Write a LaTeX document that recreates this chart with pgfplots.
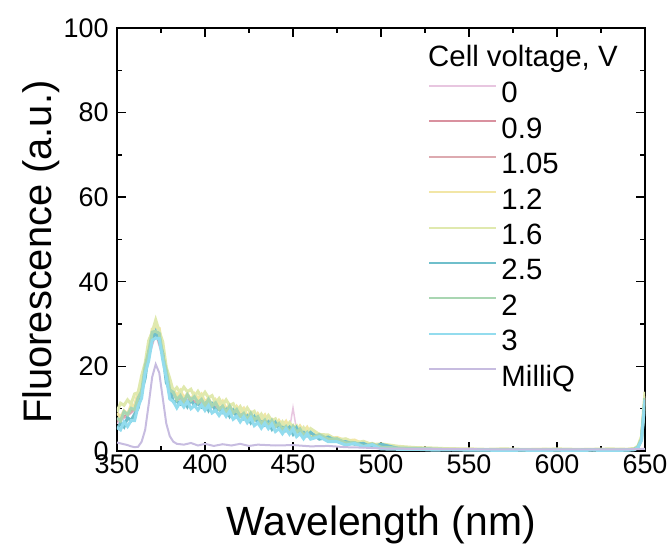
\documentclass[border=0pt]{standalone}
\usepackage{fontspec}
\setmainfont{Liberation Sans}
\usepackage{pgfplots}
\usepackage{pgfplotstable}
\pgfplotsset{compat=1.18}

\definecolor{cA}{HTML}{E8C6E0}
\definecolor{cB}{HTML}{D9919F}
\definecolor{cC}{HTML}{DDAAB0}
\definecolor{cD}{HTML}{F2E6A6}
\definecolor{cE}{HTML}{E0E9AE}
\definecolor{cF}{HTML}{6FBFCB}
\definecolor{cG}{HTML}{A9D6B2}
\definecolor{cH}{HTML}{93DCEE}
\definecolor{cM}{HTML}{C7BCE0}

% 0, 0.9 and 1.05 V
\pgfplotstableread{
wl a b c
350 6.5 7.0 7.5
355 8.0 8.5 8.0
360 9.5 10.0 9.8
364 14.0 14.5 14.2
368 22.0 23.0 22.5
372 27.5 28.5 28.0
376 22.0 23.0 22.5
380 13.5 14.5 14.0
385 12.0 12.5 12.2
390 11.8 12.2 12.0
400 10.8 11.2 11.0
410 9.6 10.0 9.8
420 8.4 8.8 8.6
430 7.1 7.5 7.3
440 5.9 6.3 6.1
446 5.3 5.7 5.5
448 5.1 5.5 5.3
450 10.2 5.4 5.2
452 5.0 5.2 5.0
460 3.8 4.1 4.0
470 2.9 3.1 3.0
480 2.1 2.3 2.2
490 1.4 1.6 1.5
500 1.0 1.1 1.0
520 0.6 0.7 0.6
560 0.3 0.4 0.3
600 0.3 0.3 0.3
640 0.3 0.3 0.3
646 0.9 1.0 0.9
648 2.8 3.0 2.9
650 12.5 13.0 12.8
}\lowtab

% 1.2, 1.6, 2.5, 2 and 3 V
\pgfplotstableread{
wl d e f g h
350 9.0 9.3 5.1 7.8 5.6
352 8.0 11.3 6.6 7.1 5.0
354 9.5 10.8 5.7 9.3 6.9
356 8.7 12.1 7.9 8.6 5.8
358 10.8 11.1 7.2 10.1 7.2
360 10.8 13.5 8.7 9.8 7.2
362 13.8 13.8 10.1 12.6 10.6
364 15.0 17.8 14.1 14.1 12.5
366 20.3 20.8 17.2 20.1 18.4
368 23.5 26.1 23.4 23.4 21.3
370 28.8 28.1 26.2 28.1 26.2
372 29.3 31.0 28.2 28.3 26.7
374 29.0 28.3 26.1 27.8 26.6
376 23.5 25.8 23.1 22.6 21.5
378 19.3 19.8 16.2 19.1 17.4
380 14.5 17.1 14.4 14.4 12.3
382 14.6 14.1 11.7 13.9 11.7
384 13.1 15.0 11.7 12.1 10.2
386 14.3 13.8 11.1 13.1 11.6
388 12.6 15.1 12.0 11.7 10.4
390 13.5 14.0 10.5 13.3 11.7
392 12.1 14.6 12.1 12.0 10.0
394 13.5 12.9 10.8 12.8 10.8
396 12.4 14.1 11.2 11.4 9.7
398 13.4 12.7 10.4 12.2 10.9
400 11.6 13.9 11.2 10.7 9.6
402 12.4 12.6 9.6 12.2 10.8
404 10.8 13.1 11.1 10.7 9.0
406 12.1 11.3 9.6 11.4 9.6
408 10.9 12.4 9.9 9.9 8.4
410 11.8 10.9 9.1 10.6 9.6
412 10.0 12.1 9.8 9.1 8.2
414 10.8 10.8 8.2 10.6 9.4
416 9.1 11.2 9.6 9.0 7.5
418 10.5 9.4 8.2 9.8 8.2
420 9.2 10.5 8.4 8.2 6.9
422 10.1 9.0 7.6 8.9 8.1
424 8.3 10.2 8.3 7.4 6.7
426 9.1 8.9 6.7 8.9 7.9
428 7.5 9.4 8.1 7.4 6.0
430 8.8 7.6 6.7 8.1 6.7
432 7.5 8.7 6.9 6.5 5.4
434 8.5 7.2 6.1 7.3 6.6
436 6.7 8.4 6.9 5.8 5.3
438 7.4 7.1 5.2 7.2 6.4
440 5.9 7.6 6.7 5.8 4.6
442 7.2 5.8 5.3 6.5 5.3
444 6.0 6.9 5.6 5.0 4.1
446 7.0 5.5 4.8 5.8 5.3
448 5.2 6.7 5.6 4.3 4.0
450 6.0 5.5 4.0 5.8 5.2
452 4.5 6.0 5.5 4.4 3.4
454 5.9 4.3 4.1 5.2 4.1
456 4.7 5.5 4.4 3.7 2.9
458 5.6 4.0 3.6 4.4 4.1
460 3.9 5.3 4.4 3.0 2.8
465 4.0 3.9 2.8 3.9 3.4
470 2.9 3.8 3.3 2.8 2.2
475 3.2 2.6 2.3 2.9 2.2
480 2.4 2.9 2.2 1.9 1.4
485 2.6 1.9 1.6 2.0 1.8
490 1.6 2.3 1.8 1.1 1.0
495 1.8 1.5 0.9 1.7 1.5
500 1.0 1.7 1.6 0.9 0.5
510 0.9 1.1 0.6 0.7 0.4
520 0.7 0.8 0.5 0.6 0.4
530 0.5 0.7 0.4 0.4 0.2
540 0.5 0.5 0.3 0.4 0.3
550 0.4 0.5 0.3 0.3 0.2
560 0.3 0.4 0.2 0.3 0.2
570 0.4 0.5 0.3 0.3 0.1
580 0.3 0.4 0.2 0.3 0.2
590 0.4 0.4 0.2 0.2 0.1
600 0.3 0.5 0.2 0.3 0.2
610 0.3 0.4 0.2 0.2 0.1
620 0.4 0.4 0.3 0.3 0.2
630 0.3 0.5 0.2 0.2 0.1
640 0.4 0.4 0.2 0.3 0.2
644 0.5 0.6 0.4 0.4 0.3
646 1.0 1.2 0.9 0.9 0.8
648 3.0 3.5 2.7 2.8 2.5
650 13.0 14.0 12.5 12.5 12.0
}\bandtab

% MilliQ
\pgfplotstableread{
wl m
350 2.0
352 1.8
354 1.6
356 1.4
358 1.1
360 0.9
362 1.0
364 2.2
366 5.0
368 11.0
370 17.5
372 20.5
374 18.5
376 12.5
378 6.5
380 3.5
382 2.2
384 1.7
388 1.5
392 1.9
396 1.3
400 1.7
405 1.2
410 1.6
415 1.3
420 1.7
425 1.2
430 1.5
440 1.3
450 1.4
460 1.1
470 1.2
480 0.9
490 0.8
500 0.6
520 0.5
560 0.4
600 0.4
640 0.4
650 0.5
}\mqtab

\begin{document}
\begin{tikzpicture}
\begin{axis}[
  scale only axis,
  width=528bp, height=423bp,
  xmin=350, xmax=650, ymin=0, ymax=100,
  xtick={350,400,...,650},
  ytick={0,20,...,100},
  minor tick num=1,
  tick align=inside,
  major tick length=9bp,
  minor tick length=5bp,
  every tick/.style={black, line width=1.4bp},
  axis line style={line width=1.6bp},
  /pgf/number format/assume math mode=true,
  tick label style={font=\fontsize{27}{32}\selectfont},
  yticklabel style={xshift=-5bp},
  xlabel={Wavelength (nm)},
  ylabel={Fluorescence (a.u.)},
  xlabel style={font=\fontsize{41}{48}\selectfont, at={(axis description cs:0.5,0)}, anchor=base, yshift=-84bp},
  ylabel style={font=\fontsize{40}{48}\selectfont, at={(axis description cs:0,0.47)}, anchor=base, yshift=65bp},
  legend style={at={(rel axis cs:0.589,0.870)}, anchor=north west, draw=none, fill=none,
    inner sep=0pt, outer sep=0pt, row sep=9.4bp, column sep=4bp,
    font=\fontsize{29.5}{34}\selectfont,
    nodes={inner sep=0pt, text height=20bp, text depth=6bp}},
  legend cell align=left,
  legend image code/.code={\path (0bp,0bp); \draw[line width=2bp] (0bp,10bp) -- (67bp,10bp);},
]
\addplot[cA, line width=1.5bp] table[x=wl, y=a] {\lowtab};
\addlegendentry{0}
\addplot[cB, line width=1.5bp] table[x=wl, y=b] {\lowtab};
\addlegendentry{0.9}
\addplot[cC, line width=1.5bp] table[x=wl, y=c] {\lowtab};
\addlegendentry{1.05}
\addplot[cD, line width=3bp] table[x=wl, y=d] {\bandtab};
\addlegendentry{1.2}
\addplot[cE, line width=3bp] table[x=wl, y=e] {\bandtab};
\addlegendentry{1.6}
\addplot[cF, line width=3bp] table[x=wl, y=f] {\bandtab};
\addlegendentry{2.5}
\addplot[cG, line width=3bp] table[x=wl, y=g] {\bandtab};
\addlegendentry{2}
\addplot[cH, line width=3bp] table[x=wl, y=h] {\bandtab};
\addlegendentry{3}
\addplot[cM, line width=2bp] table[x=wl, y=m] {\mqtab};
\addlegendentry{MilliQ}
\node[anchor=base west, inner sep=0pt, font=\fontsize{29.5}{34}\selectfont] at (rel axis cs:0.589,0.910) {Cell voltage, V};
\end{axis}
\path (current axis.south west) ++(-117bp,-97bp) coordinate (bl);
\path (current axis.north east) ++(27bp,28bp) coordinate (tr);
\path (bl) rectangle (tr);
\end{tikzpicture}
\end{document}
